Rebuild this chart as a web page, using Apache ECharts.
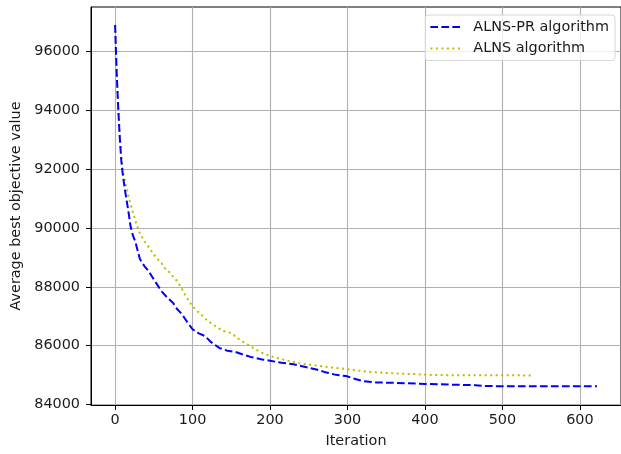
<!DOCTYPE html>
<html>
<head>
<meta charset="utf-8">
<script src="https://cdn.jsdelivr.net/npm/echarts@6/dist/echarts.min.js"></script>
<style>html,body{margin:0;padding:0;background:#fff;}#c{width:621px;height:454px;}</style>
</head>
<body>
<div id="c"></div>
<script>
const prIter  = [0, 2, 4, 6, 8, 10, 13, 17, 20, 23, 26, 32, 38, 43, 50, 55, 60, 68, 75, 80, 86, 94, 100, 108, 116, 124, 135, 145, 155, 165, 175, 190, 200, 215, 230, 247, 260, 270, 285, 298, 310, 320, 337, 360, 400, 430, 465, 475, 520, 560, 622];
const prValue = [96900, 95300, 94100, 93100, 92300, 91800, 91250, 90600, 90050, 89750, 89550, 88950, 88700, 88550, 88250, 88050, 87850, 87620, 87450, 87250, 87080, 86770, 86560, 86420, 86330, 86120, 85920, 85830, 85790, 85700, 85620, 85530, 85490, 85420, 85370, 85270, 85190, 85110, 85010, 84970, 84870, 84800, 84750, 84740, 84700, 84680, 84660, 84630, 84620, 84620, 84620];
const alnsIter  = [0, 2, 4, 6, 8, 10, 13, 15, 19, 24, 28, 32, 38, 43, 50, 54, 60, 64, 70, 75, 80, 86, 92, 99, 105, 112, 118, 124, 132, 140, 150, 161, 172, 182, 193, 204, 215, 225, 238, 250, 264, 280, 298, 315, 330, 341, 360, 384, 405, 427, 470, 500, 541];
const alnsValue = [96900, 95350, 94150, 93200, 92450, 91950, 91550, 91350, 90900, 90450, 90100, 89820, 89550, 89370, 89100, 88970, 88800, 88640, 88500, 88350, 88200, 87950, 87650, 87380, 87200, 87040, 86880, 86760, 86620, 86500, 86430, 86200, 86030, 85860, 85720, 85620, 85540, 85480, 85400, 85360, 85310, 85260, 85210, 85150, 85110, 85090, 85060, 85040, 85010, 85000, 84995, 84995, 84990];
const xTicks = [0, 100, 200, 300, 400, 500, 600];
const yTicks = [84000, 86000, 88000, 90000, 92000, 94000, 96000];
const seriesNames = ['ALNS-PR algorithm', 'ALNS algorithm'];

const zip = (a, b) => a.map((v, i) => [v, b[i]]);
const font = 'DejaVu Sans';
const fs = 14.4;
const chart = echarts.init(document.getElementById('c'), null, {renderer: 'canvas'});
chart.setOption({
  animation: false,
  backgroundColor: '#fff',
  grid: {left: 91, top: 7, width: 531, height: 398, show: true, borderColor: '#000', borderWidth: 1, backgroundColor: 'transparent', containLabel: false},
  legend: {
    data: seriesNames,
    orient: 'vertical', right: 6, top: 15,
    itemWidth: 32, itemHeight: 10, itemGap: 7.5,
    padding: [5, 6, 5, 4],
    borderColor: '#d6d6d6', borderWidth: 1, borderRadius: 3,
    backgroundColor: 'rgba(255,255,255,0.8)',
    itemStyle: {opacity: 0},
    textStyle: {fontFamily: font, fontSize: fs, color: '#1a1a1a', padding: [0, 0, 0, 6]}
  },
  xAxis: {
    type: 'value', min: -31.1, max: 653.1,
    name: 'Iteration', nameLocation: 'middle', nameGap: 29,
    nameTextStyle: {fontFamily: font, fontSize: fs, color: '#1a1a1a'},
    axisLine: {show: true, onZero: false, lineStyle: {color: '#000', width: 1}},
    axisTick: {show: true, length: 5, customValues: xTicks, lineStyle: {color: '#000', width: 1}},
    axisLabel: {customValues: xTicks, margin: 8, fontFamily: font, fontSize: fs, color: '#1a1a1a', formatter: v => String(v)},
    splitLine: {show: true, lineStyle: {color: '#b0b0b0', width: 1.1}}
  },
  yAxis: {
    type: 'value', min: 83985, max: 97515,
    name: 'Average best objective value', nameLocation: 'middle', nameGap: 65, nameRotate: 90,
    nameTextStyle: {fontFamily: font, fontSize: fs, color: '#1a1a1a'},
    axisLine: {show: true, onZero: false, lineStyle: {color: '#000', width: 1}},
    axisTick: {show: true, length: 5, customValues: yTicks, lineStyle: {color: '#000', width: 1}},
    axisLabel: {customValues: yTicks, margin: 11, fontFamily: font, fontSize: fs, color: '#1a1a1a', formatter: v => String(v)},
    splitLine: {show: true, lineStyle: {color: '#b0b0b0', width: 1.1}}
  },
  series: [
    {name: seriesNames[0], type: 'line', data: zip(prIter, prValue), showSymbol: false, symbol: 'none', smooth: false,
     lineStyle: {color: '#0000ff', width: 2, type: [7.7, 3.3], cap: 'butt'}, itemStyle: {color: '#0000ff'}, z: 3},
    {name: seriesNames[1], type: 'line', data: zip(alnsIter, alnsValue), showSymbol: false, symbol: 'none', smooth: false,
     lineStyle: {color: '#bfbf00', width: 2, type: [2.1, 3.4], cap: 'butt'}, itemStyle: {color: '#bfbf00'}, z: 2}
  ]
});
</script>
</body>
</html>
